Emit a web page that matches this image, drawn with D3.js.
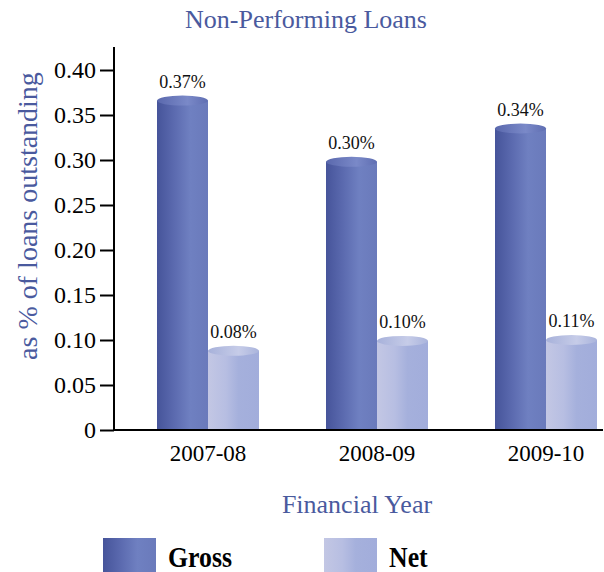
<!DOCTYPE html>
<html>
<head>
<meta charset="utf-8">
<script src="https://cdn.jsdelivr.net/npm/d3@7"></script>
<style>
  body { margin: 0; background: #fff; }
  svg { display: block; }
  text { font-family: "Liberation Serif", "DejaVu Serif", serif; }
</style>
</head>
<body>
<svg class="chart" width="604" height="572"></svg>
<script>
// data
const years = ["2007-08", "2008-09", "2009-10"];
const series = ["Gross", "Net"];
const gross = [0.366, 0.298, 0.335];
const net = [0.088, 0.099, 0.100];
const grossLabels = ["0.37%", "0.30%", "0.34%"];
const netLabels = ["0.08%", "0.10%", "0.11%"];
const yTicks = [0, 0.05, 0.10, 0.15, 0.20, 0.25, 0.30, 0.35, 0.40];

const blue = "#4a5a9e";
const svg = d3.select(".chart");

const x0 = d3.scaleBand().domain(years).range([123.5, 630.5]);
const x1 = d3.scaleBand().domain(series).range([0, x0.bandwidth()]).paddingOuter(0.657);
const y = d3.scaleLinear().domain([0, 0.4]).range([430, 70]);

// gradients
const defs = svg.append("defs");
function grad(id, stops) {
    const g = defs.append("linearGradient").attr("id", id)
        .attr("x1", "0%").attr("x2", "100%").attr("y1", "0%").attr("y2", "0%");
    stops.forEach(s => g.append("stop").attr("offset", s[0]).attr("stop-color", s[1]));
}
grad("gGross", [["0%", "#46549a"], ["35%", "#5c6bb0"], ["65%", "#6f80c1"], ["100%", "#6a7abb"]]);
grad("gNet", [["0%", "#c3c7e4"], ["35%", "#b7bee2"], ["60%", "#a5b0dc"], ["100%", "#a2addb"]]);
grad("gGrossTop", [["0%", "#5a68ad"], ["60%", "#7a89c8"], ["100%", "#5f6eb2"]]);
grad("gNetTop", [["0%", "#a7b1da"], ["60%", "#c6cce8"], ["100%", "#aab4dc"]]);

const rows = [];
years.forEach((yr, i) => {
    rows.push({ year: yr, s: "Gross", v: gross[i], label: grossLabels[i] });
    rows.push({ year: yr, s: "Net", v: net[i], label: netLabels[i] });
});

const w = x1.bandwidth();
const bars = svg.append("g").selectAll("g").data(rows).join("g")
    .attr("transform", d => `translate(${x0(d.year) + x1(d.s)},0)`);

bars.append("rect")
    .attr("x", 0).attr("width", w)
    .attr("y", d => y(d.v)).attr("height", d => y(0) - y(d.v))
    .attr("fill", d => d.s === "Gross" ? "url(#gGross)" : "url(#gNet)");

bars.append("ellipse")
    .attr("cx", w / 2).attr("cy", d => y(d.v))
    .attr("rx", w / 2).attr("ry", 5)
    .attr("fill", d => d.s === "Gross" ? "url(#gGrossTop)" : "url(#gNetTop)");

bars.append("text")
    .attr("x", w / 2).attr("y", d => y(d.v) - 13)
    .attr("text-anchor", "middle")
    .attr("font-size", 18).attr("fill", "#111")
    .text(d => d.label);

// y axis
const yAxis = svg.append("g").attr("transform", "translate(114,0)")
    .call(d3.axisLeft(y).tickValues(yTicks).tickSize(14).tickPadding(4)
        .tickFormat(d => d === 0 ? "0" : d3.format(".2f")(d)));
yAxis.select(".domain").remove();
yAxis.selectAll(".tick line").attr("stroke", "#000").attr("stroke-width", 2);
yAxis.selectAll(".tick text").attr("font-size", 24).attr("fill", "#000");

svg.append("line").attr("x1", 114).attr("x2", 114).attr("y1", 47).attr("y2", y(0) + 1)
    .attr("stroke", "#000").attr("stroke-width", 2);
svg.append("line").attr("x1", 113).attr("x2", 603).attr("y1", y(0)).attr("y2", y(0))
    .attr("stroke", "#000").attr("stroke-width", 2);

// x axis labels
const xAxis = svg.append("g").attr("transform", `translate(0,${y(0)})`)
    .call(d3.axisBottom(x0).tickSize(0).tickPadding(15));
xAxis.select(".domain").remove();
xAxis.selectAll(".tick text").attr("font-size", 23).attr("fill", "#000");

// titles
svg.append("text").attr("x", 306).attr("y", 28).attr("text-anchor", "middle")
    .attr("font-size", 26).attr("fill", blue).text("Non-Performing Loans");

svg.append("text").attr("transform", "translate(37,216) rotate(-90)")
    .attr("text-anchor", "middle").attr("font-size", 28).attr("fill", blue)
    .text("as % of loans outstanding");

svg.append("text").attr("x", 357).attr("y", 513).attr("text-anchor", "middle")
    .attr("font-size", 26).attr("fill", blue).text("Financial Year");

// legend
const legendX = [103, 324];
const legend = svg.append("g").selectAll("g").data(series).join("g")
    .attr("transform", (d, i) => `translate(${legendX[i]},538)`);
legend.append("rect").attr("width", 53).attr("height", 40)
    .attr("fill", d => d === "Gross" ? "url(#gGross)" : "url(#gNet)");
legend.append("text").attr("transform", "translate(65,29) scale(0.86,1)")
    .attr("font-size", 30).attr("font-weight", "bold").attr("fill", "#000")
    .text(d => d);
</script>
</body>
</html>
